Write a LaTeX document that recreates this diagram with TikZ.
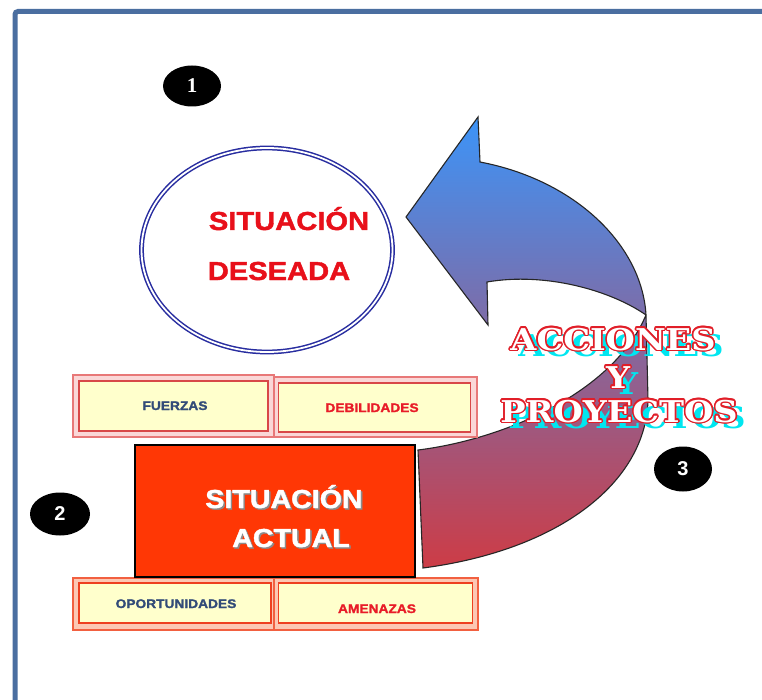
\documentclass[tikz,border=0pt]{standalone}
\usepackage{fontspec}
\setmainfont{Liberation Sans}
\newfontfamily\slabfont{DejaVu Serif}
\newfontfamily\heavysans[FakeBold=1.5]{Liberation Sans}
\newfontfamily\numserif{Liberation Serif}
\usetikzlibrary{shapes.geometric,calc}
\definecolor{framec}{RGB}{74,110,160}
\definecolor{navyc}{RGB}{40,45,160}
\definecolor{desred}{RGB}{232,16,26}
\definecolor{actred}{RGB}{255,55,5}
\definecolor{boxyel}{RGB}{255,255,204}
\definecolor{upout}{RGB}{232,120,120}
\definecolor{upin}{RGB}{216,72,72}
\definecolor{upgap}{RGB}{250,215,215}
\definecolor{loout}{RGB}{242,96,64}
\definecolor{loin}{RGB}{238,64,32}
\definecolor{logap}{RGB}{252,200,180}
\definecolor{txtblue}{RGB}{50,75,120}
\definecolor{txtred}{RGB}{232,28,40}
\definecolor{arrtop}{RGB}{60,148,248}
\definecolor{arrmid}{RGB}{160,108,200}
\definecolor{arrbot}{RGB}{205,60,70}
\definecolor{shadowcyan}{RGB}{0,230,240}
\definecolor{outred}{RGB}{225,30,40}
\tikzset{
  badge/.style={ellipse, fill=black, text=white, inner sep=0, minimum width=58, minimum height=42, font=\bfseries\fontsize{20}{20}\selectfont},
  bigred/.style={text=desred, anchor=base, inner sep=0, xscale=1.12, font=\heavysans\bfseries\fontsize{26}{26}\selectfont},
  bigwhite/.style={text=white, anchor=base, inner sep=0, xscale=1.1, font=\heavysans\bfseries\fontsize{26}{26}\selectfont},
  bigshadow/.style={text=black!45, anchor=base, inner sep=0, xscale=1.1, font=\heavysans\bfseries\fontsize{26}{26}\selectfont},
  uboxout/.style={rectangle, draw=upout, fill=upgap, line width=2, inner sep=0},
  uboxin/.style={rectangle, draw=upin, fill=boxyel, line width=1.5, inner sep=0},
  lboxout/.style={rectangle, draw=loout, fill=logap, line width=2, inner sep=0},
  lboxin/.style={rectangle, draw=loin, fill=boxyel, line width=1.5, inner sep=0},
  smalltxt/.style={anchor=base, inner sep=0, xscale=1.1, font=\heavysans\bfseries\fontsize{12.5}{12.5}\selectfont},
  acc/.style={anchor=base, inner sep=0, xscale=1.12, font=\slabfont\bfseries\fontsize{30}{30}\selectfont},
}
\newcommand\outlinedword[3]{%
  \node[acc, text=shadowcyan] (#1s) at ($(#2)+(8,6)$) {#3};
  \foreach \ang in {0,30,...,330}{
    \node[acc, text=outred] (#1o\ang) at ($(#2)+(\ang:1.6)$) {#3};
  }
  \node[acc, text=white] (#1) at (#2) {#3};
}
\begin{document}
\begin{tikzpicture}[x=1pt,y=-1pt]
\useasboundingbox (0,0) rectangle (762,700);
\fill[white] (0,0) rectangle (762,700);
% frame
\draw[framec, line width=5, rounded corners=3] (15,705) -- (15,11.5) -- (770,11.5);

% badges
\node[badge, font=\numserif\bfseries\fontsize{21}{21}\selectfont, minimum width=58, minimum height=41] (b1) at (192,86) {1};
\node[badge, minimum width=60, minimum height=43] (b2) at (60,514) {2};
\node[badge, minimum width=58, minimum height=45] (b3) at (683,469) {3};

% desired situation
\node[ellipse, draw=navyc, line width=1.5, double=white, double distance=1.8, minimum width=251, minimum height=204, inner sep=0] (des) at (267,250) {};
\node[bigred] (des1) at (289,230) {SITUACIÓN};
\node[bigred] (des2) at (279,280) {DESEADA};

% curved arrow
\shade[top color=arrtop, middle color=arrmid, bottom color=arrbot]
  (406,217) -- (478,117) -- (480,162)
  .. controls (575,180) and (642,245) .. (646,315)
  -- (648,400)
  .. controls (646,482) and (560,550) .. (423,568)
  -- (418,450)
  .. controls (500,440) and (612,395) .. (646,315)
  .. controls (610,290) and (545,272) .. (487,282)
  -- (488,325) -- cycle;
\draw[black!85, line width=1.1, line join=miter]
  (406,217) -- (478,117) -- (480,162)
  .. controls (575,180) and (642,245) .. (646,315)
  -- (648,400)
  .. controls (646,482) and (560,550) .. (423,568)
  -- (418,450)
  .. controls (500,440) and (612,395) .. (646,315)
  .. controls (610,290) and (545,272) .. (487,282)
  -- (488,325) -- cycle;

% upper boxes
\node[uboxout, minimum width=201, minimum height=62] (fzo) at (173.5,406) {};
\node[uboxin, minimum width=189, minimum height=50] (fzi) at (173.5,406) {};
\node[uboxout, minimum width=203, minimum height=60] (dbo) at (375.5,407) {};
\node[uboxin, minimum width=192, minimum height=49] (dbi) at (374.5,407.5) {};
\node[smalltxt, text=txtblue] (fz) at (175,410) {FUERZAS};
\node[smalltxt, text=txtred] (db) at (372,412) {DEBILIDADES};

% lower boxes
\node[lboxout, minimum width=201, minimum height=52] (opo) at (173.5,604) {};
\node[lboxout, minimum width=204, minimum height=52] (amo) at (376,604) {};
\node[lboxin, minimum width=192, minimum height=40] (opi) at (175,603) {};
\node[lboxin, minimum width=194, minimum height=40] (ami) at (375.5,603) {};
\node[smalltxt, text=txtblue] (op) at (176,608) {OPORTUNIDADES};
\node[smalltxt, text=txtred] (am) at (377,613) {AMENAZAS};

% current situation
\node[rectangle, draw=black, line width=2, fill=actred, minimum width=280, minimum height=132, inner sep=0] (act) at (275,511) {};
\node[bigshadow] (act1s) at (285.5,509.5) {SITUACIÓN};
\node[bigshadow] (act2s) at (292.5,548.5) {ACTUAL};
\node[bigwhite] (act1) at (284,508) {SITUACIÓN};
\node[bigwhite] (act2) at (291,547) {ACTUAL};

% actions and projects
\outlinedword{acc1}{613,350}{ACCIONES}
\outlinedword{acc2}{618,388}{Y}
\outlinedword{acc3}{619,422}{PROYECTOS}
\end{tikzpicture}
\end{document}
